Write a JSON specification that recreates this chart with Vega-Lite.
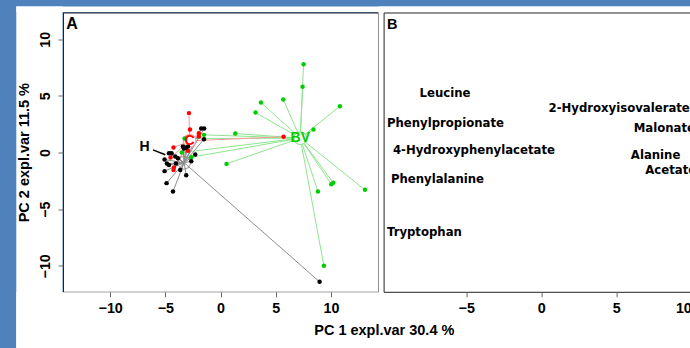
{
  "$schema": "https://vega.github.io/schema/vega-lite/v6.json",
  "background": "#4F81BD",
  "padding": {"left": 15, "top": 5.5, "right": 0, "bottom": 0},
  "config": {
    "view": {"stroke": "#222222", "strokeWidth": 1, "fill": "#FFFFFF"},
    "axis": {
      "grid": false, "domain": false,
      "labelFont": "Liberation Sans", "labelFontWeight": "bold", "labelFontSize": 14.3, "labelColor": "#000000",
      "tickColor": "#666666", "tickSize": 5,
      "titleFont": "Liberation Sans", "titleFontWeight": "bold", "titleFontSize": 14.5, "titleColor": "#000000"
    }
  },
  "datasets": {
    "pts": [
      {"group": "BV", "pc1": 7.52, "pc2": 7.80},
      {"group": "BV", "pc1": 7.43, "pc2": 5.80},
      {"group": "BV", "pc1": 3.66, "pc2": 4.41},
      {"group": "BV", "pc1": 5.68, "pc2": 4.68},
      {"group": "BV", "pc1": 3.17, "pc2": 3.53},
      {"group": "BV", "pc1": 10.81, "pc2": 4.09},
      {"group": "BV", "pc1": 8.42, "pc2": 2.03},
      {"group": "BV", "pc1": 1.33, "pc2": 1.68},
      {"group": "BV", "pc1": -1.50, "pc2": 1.56},
      {"group": "BV", "pc1": -3.26, "pc2": 1.24},
      {"group": "BV", "pc1": -3.50, "pc2": 0.00},
      {"group": "BV", "pc1": -2.65, "pc2": -0.41},
      {"group": "BV", "pc1": 0.54, "pc2": -1.00},
      {"group": "BV", "pc1": 8.82, "pc2": -3.44},
      {"group": "BV", "pc1": 10.03, "pc2": -2.79},
      {"group": "BV", "pc1": 10.21, "pc2": -2.67},
      {"group": "BV", "pc1": 13.08, "pc2": -3.29},
      {"group": "BV", "pc1": 9.36, "pc2": -10.00},
      {"group": "C", "pc1": -2.86, "pc2": 3.48},
      {"group": "C", "pc1": -2.77, "pc2": 2.03},
      {"group": "C", "pc1": -1.96, "pc2": 1.71},
      {"group": "C", "pc1": -1.96, "pc2": 1.41},
      {"group": "C", "pc1": 5.71, "pc2": 1.39},
      {"group": "C", "pc1": -4.26, "pc2": 0.44},
      {"group": "C", "pc1": -4.53, "pc2": -0.44},
      {"group": "C", "pc1": -4.22, "pc2": -1.32},
      {"group": "C", "pc1": -4.26, "pc2": -1.55},
      {"group": "C", "pc1": -2.95, "pc2": 0.15},
      {"group": "H", "pc1": -1.75, "pc2": 2.12},
      {"group": "H", "pc1": -1.48, "pc2": 2.12},
      {"group": "H", "pc1": -1.50, "pc2": 1.18},
      {"group": "H", "pc1": -3.41, "pc2": 0.53},
      {"group": "H", "pc1": -3.32, "pc2": 0.35},
      {"group": "H", "pc1": -3.11, "pc2": 0.44},
      {"group": "H", "pc1": -2.95, "pc2": 0.53},
      {"group": "H", "pc1": -2.29, "pc2": -0.18},
      {"group": "H", "pc1": -2.65, "pc2": -0.76},
      {"group": "H", "pc1": -4.67, "pc2": -0.06},
      {"group": "H", "pc1": -4.44, "pc2": -0.06},
      {"group": "H", "pc1": -4.10, "pc2": -0.35},
      {"group": "H", "pc1": -3.86, "pc2": -0.50},
      {"group": "H", "pc1": -5.07, "pc2": -0.62},
      {"group": "H", "pc1": -4.86, "pc2": -0.97},
      {"group": "H", "pc1": -4.67, "pc2": -1.09},
      {"group": "H", "pc1": -4.04, "pc2": -0.97},
      {"group": "H", "pc1": -5.07, "pc2": -1.64},
      {"group": "H", "pc1": -3.65, "pc2": -1.55},
      {"group": "H", "pc1": -3.11, "pc2": -2.00},
      {"group": "H", "pc1": -4.89, "pc2": -2.70},
      {"group": "H", "pc1": -4.31, "pc2": -3.44},
      {"group": "H", "pc1": 8.97, "pc2": -11.41}
    ],
    "cent": [
      {"group": "BV", "cx": 7.22, "cy": 1.27},
      {"group": "C", "cx": -2.80, "cy": 1.03},
      {"group": "H", "cx": -3.30, "cy": -0.90}
    ],
    "hlab": [
      {"label": "H", "lx": -6.88, "ly": 0.53, "x1": -6.12, "y1": 0.24, "x2": -5.01, "y2": -0.20}
    ],
    "load": [
      {"name": "Leucine", "pc1": -6.42, "pc2": 5.24},
      {"name": "2-Hydroxyisovalerate", "pc1": 5.19, "pc2": 3.92},
      {"name": "Phenylpropionate", "pc1": -6.39, "pc2": 2.59},
      {"name": "Malonate", "pc1": 8.2, "pc2": 2.15},
      {"name": "4-Hydroxyphenylacetate", "pc1": -4.49, "pc2": 0.24},
      {"name": "Alanine", "pc1": 7.62, "pc2": -0.23},
      {"name": "Acetate", "pc1": 8.63, "pc2": -1.55},
      {"name": "Phenylalanine", "pc1": -6.92, "pc2": -2.35},
      {"name": "Tryptophan", "pc1": -7.79, "pc2": -6.97}
    ]
  },
  "spacing": 5.6,
  "bounds": "flush",
  "hconcat": [
    {
      "width": 315,
      "height": 279.3,
      "resolve": {"scale": {"color": "independent", "stroke": "independent"}},
      "layer": [
        {
          "data": {"values": [{}]},
          "mark": {"type": "rect", "color": "#FFFFFF", "clip": false},
          "encoding": {
            "x": {"datum": -18.5, "type": "quantitative",
                  "scale": {"domain": [-14.27, 14.26], "nice": false, "zero": false},
                  "axis": {"values": [-10, -5, 0, 5, 10], "labelPadding": 5, "zindex": 1, "title": "PC 1 expl.var 30.4 %", "titleX": 320.8, "titleY": 39, "titleBaseline": "middle", "titleAnchor": "middle"}},
            "x2": {"datum": -14.315},
            "y": {"datum": 12.9, "type": "quantitative",
                  "scale": {"domain": [-12.29, 12.36], "nice": false, "zero": false},
                  "axis": {"values": [-10, -5, 0, 5, 10], "labelAngle": -90, "labelPadding": 6, "zindex": 1, "title": "PC 2 expl.var 11.5 %", "titlePadding": 7}},
            "y2": {"datum": -17.32}
          }
        },
        {
          "data": {"values": [{}]},
          "mark": {"type": "rect", "color": "#FFFFFF", "clip": false},
          "encoding": {
            "x": {"datum": -18.5, "type": "quantitative"},
            "x2": {"datum": 42.64},
            "y": {"datum": 12.9, "type": "quantitative"},
            "y2": {"datum": 12.405}
          }
        },
        {
          "data": {"values": [{}]},
          "mark": {"type": "rect", "color": "#FFFFFF", "clip": false},
          "encoding": {
            "x": {"datum": -18.5, "type": "quantitative"},
            "x2": {"datum": 42.64},
            "y": {"datum": -12.335, "type": "quantitative"},
            "y2": {"datum": -17.32}
          }
        },
        {
          "data": {"values": [{}]},
          "mark": {"type": "rect", "color": "#FFFFFF", "clip": false},
          "encoding": {
            "x": {"datum": 14.305, "type": "quantitative"},
            "x2": {"datum": 42.64},
            "y": {"datum": 12.9, "type": "quantitative"},
            "y2": {"datum": -17.32}
          }
        },
        {
          "data": {"name": "pts"},
          "transform": [{"lookup": "group", "from": {"data": {"name": "cent"}, "key": "group", "fields": ["cx", "cy"]}}],
          "mark": {"type": "rule", "strokeWidth": 1},
          "encoding": {
            "x": {"field": "pc1", "type": "quantitative"},
            "y": {"field": "pc2", "type": "quantitative"},
            "x2": {"field": "cx"},
            "y2": {"field": "cy"},
            "color": {"field": "group", "type": "nominal", "scale": {"domain": ["BV", "C", "H"], "range": ["#8EE48E", "#F59A9A", "#8C8C8C"]}, "legend": null}
          }
        },
        {
          "data": {"name": "cent"},
          "transform": [{"filter": "datum.group !== 'H'"}],
          "mark": {"type": "point", "shape": "circle", "filled": false, "fill": "#FFFFFF", "fillOpacity": 1, "size": 160, "strokeWidth": 1.2},
          "encoding": {
            "x": {"field": "cx", "type": "quantitative"},
            "y": {"field": "cy", "type": "quantitative"},
            "stroke": {"field": "group", "type": "nominal", "scale": {"domain": ["BV", "C"], "range": ["#8EE48E", "#F59A9A"]}, "legend": null}
          }
        },
        {
          "data": {"name": "cent"},
          "transform": [{"filter": "datum.group === 'H'"}],
          "mark": {"type": "point", "shape": "circle", "filled": false, "size": 160, "strokeWidth": 1.2, "color": "#8A8A8A"},
          "encoding": {
            "x": {"field": "cx", "type": "quantitative"},
            "y": {"field": "cy", "type": "quantitative"}
          }
        },
        {
          "data": {"name": "pts"},
          "mark": {"type": "circle", "size": 20, "opacity": 1},
          "encoding": {
            "x": {"field": "pc1", "type": "quantitative"},
            "y": {"field": "pc2", "type": "quantitative"},
            "color": {"field": "group", "type": "nominal", "scale": {"domain": ["BV", "C", "H"], "range": ["#00CC00", "#FF0000", "#000000"]}, "legend": null}
          }
        },
        {
          "data": {"name": "cent"},
          "transform": [{"filter": "datum.group !== 'H'"}],
          "mark": {"type": "text", "font": "Liberation Sans", "fontWeight": "bold", "fontSize": 14, "baseline": "middle", "align": "center"},
          "encoding": {
            "x": {"field": "cx", "type": "quantitative"},
            "y": {"field": "cy", "type": "quantitative"},
            "text": {"field": "group"},
            "color": {"field": "group", "type": "nominal", "scale": {"domain": ["BV", "C"], "range": ["#00CC00", "#FF0000"]}, "legend": null}
          }
        },
        {
          "data": {"name": "hlab"},
          "mark": {"type": "rule", "color": "#000000", "strokeWidth": 1.5},
          "encoding": {
            "x": {"field": "x1", "type": "quantitative"},
            "y": {"field": "y1", "type": "quantitative"},
            "x2": {"field": "x2"},
            "y2": {"field": "y2"}
          }
        },
        {
          "data": {"name": "hlab"},
          "mark": {"type": "text", "font": "Liberation Sans", "fontWeight": "bold", "fontSize": 14, "baseline": "middle", "align": "center", "color": "#000000"},
          "encoding": {
            "x": {"field": "lx", "type": "quantitative"},
            "y": {"field": "ly", "type": "quantitative"},
            "text": {"field": "label"}
          }
        },
        {
          "data": {"values": [{"panel": "A"}]},
          "mark": {"type": "text", "font": "Liberation Sans", "fontWeight": "bold", "fontSize": 16, "align": "left", "baseline": "alphabetic", "dx": 3.3, "dy": 16.6, "color": "#000000"},
          "encoding": {
            "x": {"datum": -14.27, "type": "quantitative"},
            "y": {"datum": 12.36, "type": "quantitative"},
            "text": {"field": "panel"}
          }
        }
      ]
    },
    {
      "width": 307.7,
      "height": 279.3,
      "layer": [
        {
          "data": {"name": "load"},
          "mark": {"type": "text", "font": "DejaVu Sans", "fontWeight": "bold", "fontSize": 11.7, "baseline": "middle", "align": "center", "color": "#000000", "clip": true},
          "encoding": {
            "x": {"field": "pc1", "type": "quantitative", "scale": {"domain": [-10.51, 10.0], "nice": false, "zero": false}, "axis": {"values": [-5, 0, 5, 10], "labelPadding": 5, "title": null}},
            "y": {"field": "pc2", "type": "quantitative", "scale": {"domain": [-12.29, 12.36], "nice": false, "zero": false}, "axis": null},
            "text": {"field": "name"}
          }
        },
        {
          "data": {"values": [{"panel": "B"}]},
          "mark": {"type": "text", "font": "Liberation Sans", "fontWeight": "bold", "fontSize": 14.5, "align": "left", "baseline": "alphabetic", "dx": 3.4, "dy": 16.6, "color": "#000000"},
          "encoding": {
            "x": {"datum": -10.51, "type": "quantitative"},
            "y": {"datum": 12.36, "type": "quantitative"},
            "text": {"field": "panel"}
          }
        }
      ]
    }
  ]
}
